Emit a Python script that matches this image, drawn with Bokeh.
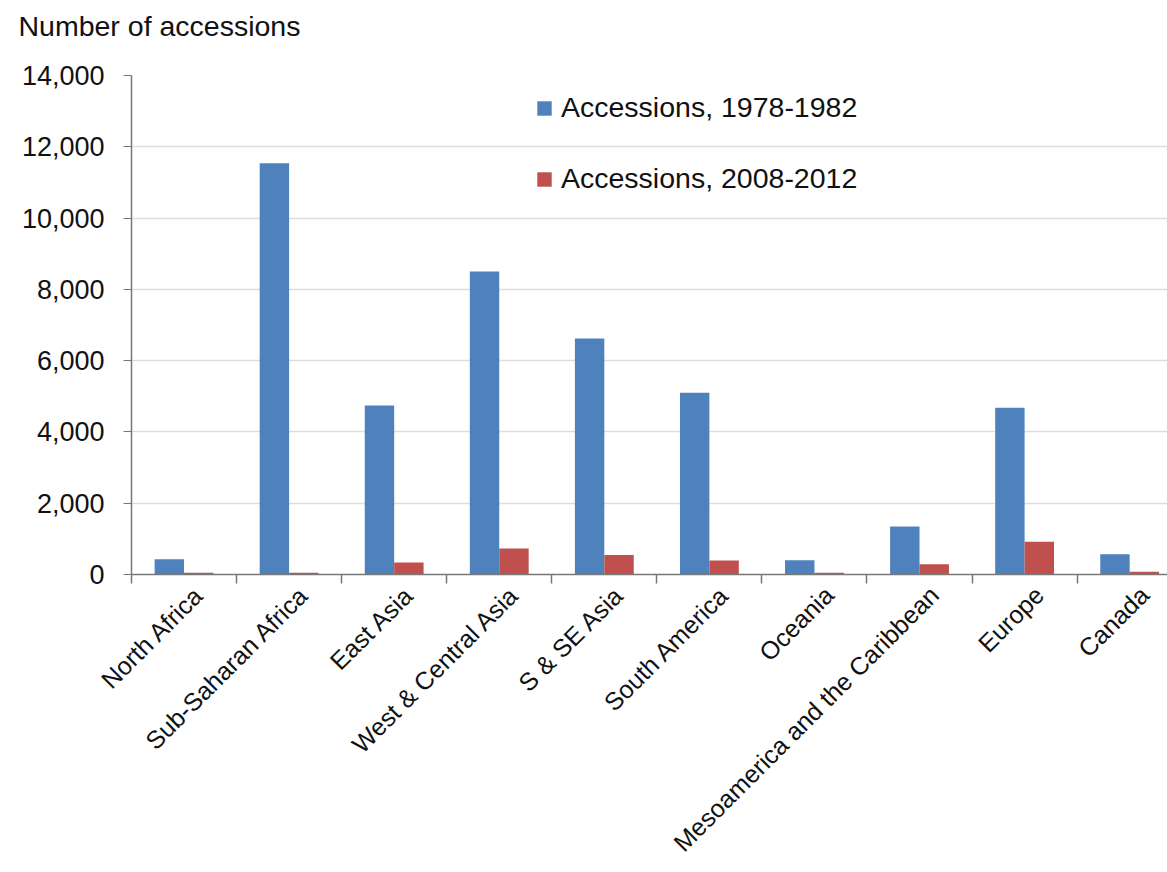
import numpy as np
from bokeh.plotting import figure
from bokeh.models import (Range1d, FixedTicker, NumeralTickFormatter, ColumnDataSource,
                          Legend, LegendItem, CustomJSTickFormatter, Title)
from bokeh.embed import file_html
from bokeh.resources import INLINE

categories = ["North Africa", "Sub-Saharan Africa", "East Asia", "West & Central Asia",
              "S & SE Asia", "South America", "Oceania", "Mesoamerica and the Caribbean",
              "Europe", "Canada"]
acc_1978_1982 = [430, 11540, 4740, 8500, 6620, 5100, 400, 1350, 4680, 570]
acc_2008_2012 = [50, 50, 340, 730, 550, 390, 50, 290, 920, 80]
y_ticks = [0, 2000, 4000, 6000, 8000, 10000, 12000, 14000]

FONT = "Liberation Sans"
BLUE = "#4F81BD"
RED = "#C0504D"
TXT = "#111111"

n = len(categories)
centers = np.arange(n) + 0.5
bounds = list(np.arange(n + 1).astype(float))
label_pos = list(centers + 0.14)

src = ColumnDataSource(dict(
    xb=centers - 0.14, xr=centers + 0.14,
    b=acc_1978_1982, r=acc_2008_2012))

p = figure(width=1167, height=872, output_backend="svg", toolbar_location=None,
           x_range=Range1d(0, 9.86), y_range=Range1d(0, 14000),
           min_border_left=131, min_border_right=0, min_border_top=75,
           min_border_bottom=298)

# spacer title (closest to frame), then the visible title above it
p.add_layout(Title(text=" ", text_font=FONT, text_font_size="16px", standoff=10), "above")
p.add_layout(Title(text="Number of accessions", text_font=FONT, text_font_size="28.5px",
                   text_font_style="normal", text_color=TXT, offset=-113, standoff=10),
             "above")

p.outline_line_color = None
p.background_fill_color = "white"

rb = p.vbar(x="xb", top="b", width=0.28, source=src, fill_color=BLUE, line_color=None)
rr = p.vbar(x="xr", top="r", width=0.28, source=src, fill_color=RED, line_color=None)

# x axis: tick marks at category boundaries, labels near category centres
p.xaxis.ticker = FixedTicker(ticks=label_pos, minor_ticks=bounds)
p.xaxis.formatter = CustomJSTickFormatter(
    args=dict(cats=categories),
    code="return cats[Math.floor(tick)];")
p.xaxis.major_tick_line_color = None
p.xaxis.major_tick_out = 0
p.xaxis.major_tick_in = 0
p.xaxis.minor_tick_line_color = "#777777"
p.xaxis.minor_tick_out = 9
p.xaxis.minor_tick_in = 0
p.xaxis.minor_tick_line_width = 1.5
p.xaxis.axis_line_color = "#777777"
p.xaxis.axis_line_width = 1.5
p.xaxis.major_label_orientation = np.pi / 4
p.xaxis.major_label_text_font = FONT
p.xaxis.major_label_text_font_size = "25px"
p.xaxis.major_label_text_color = TXT
p.xaxis.major_label_standoff = 7
p.xgrid.grid_line_color = None

# y axis
p.yaxis.ticker = FixedTicker(ticks=y_ticks)
p.yaxis.formatter = NumeralTickFormatter(format="0,0")
p.yaxis.major_label_text_font = FONT
p.yaxis.major_label_text_font_size = "27px"
p.yaxis.major_label_text_color = TXT
p.yaxis.axis_line_color = "#777777"
p.yaxis.axis_line_width = 1.5
p.yaxis.major_tick_line_color = "#777777"
p.yaxis.major_tick_out = 8
p.yaxis.major_tick_in = 0
p.yaxis.minor_tick_line_color = None
p.yaxis.major_label_standoff = 19
p.ygrid.grid_line_color = "#dddddd"
p.ygrid.grid_line_width = 1.5

legend = Legend(items=[LegendItem(label="Accessions, 1978-1982", renderers=[rb]),
                       LegendItem(label="Accessions, 2008-2012", renderers=[rr])],
                location=(404, 379), orientation="vertical")
legend.label_text_font = FONT
legend.label_text_font_size = "28.5px"
legend.label_text_color = TXT
legend.glyph_width = 18
legend.glyph_height = 18
legend.spacing = 38
legend.padding = 0
legend.margin = 0
legend.label_standoff = 8
legend.border_line_color = None
legend.background_fill_alpha = 0
p.add_layout(legend, "center")

open("out.html", "w").write(file_html(p, INLINE))
